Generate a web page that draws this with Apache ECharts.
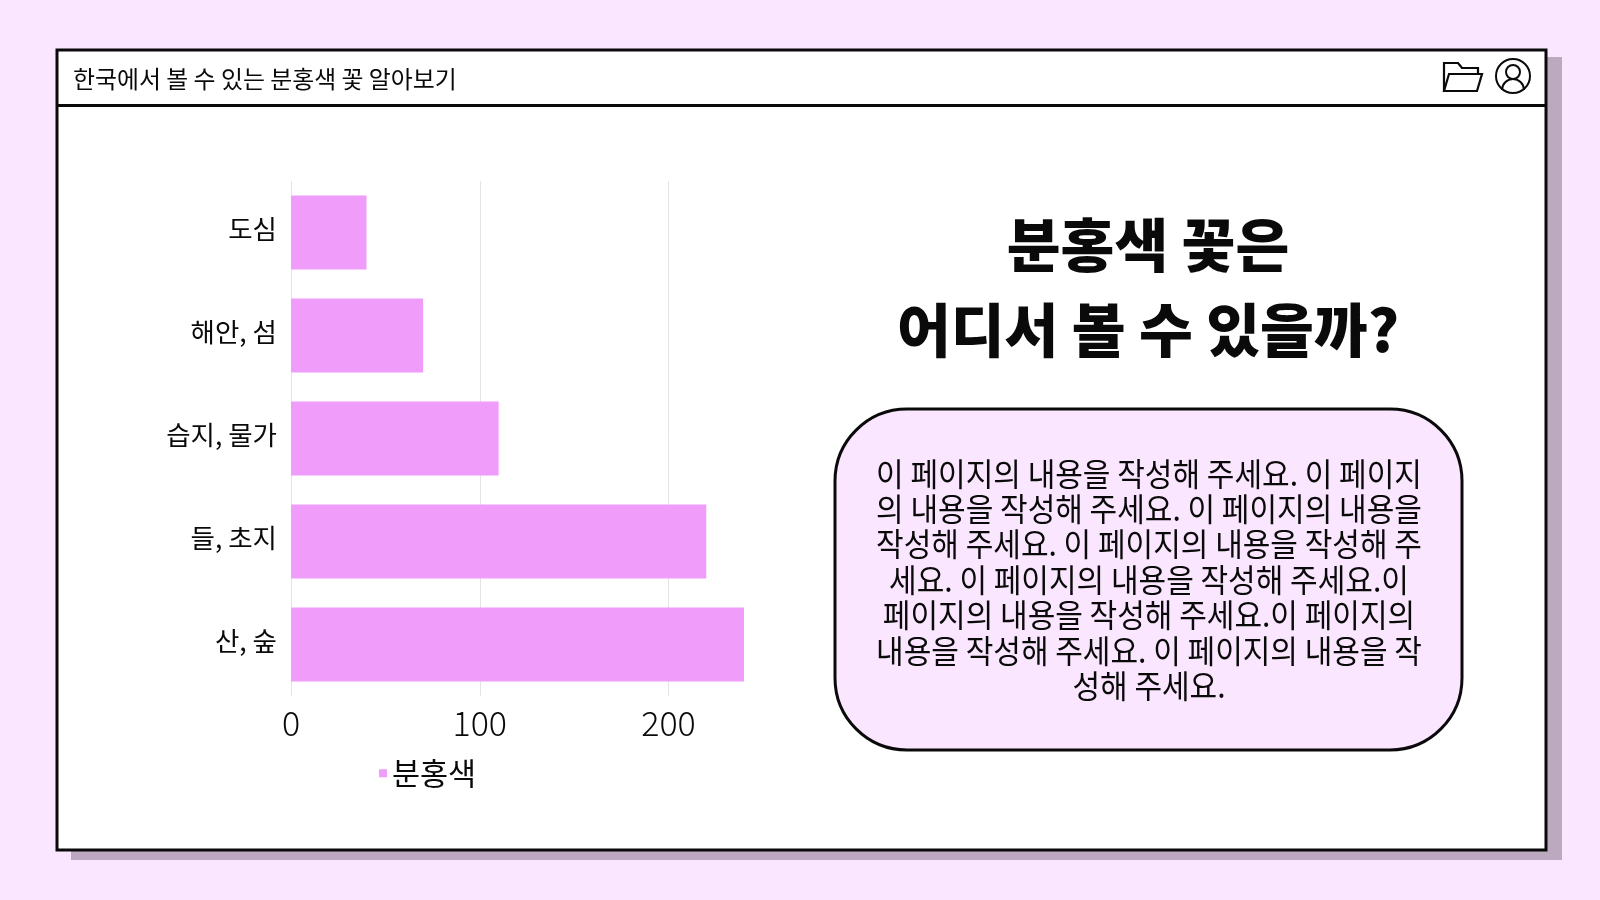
<!DOCTYPE html>
<html>
<head>
    <meta charset="utf-8">
    <title>분홍색 꽃</title>
    <script src="https://cdn.jsdelivr.net/npm/echarts@6/dist/echarts.min.js"></script>
    <style>
        html, body { margin: 0; padding: 0; background: #FAE6FE; }
    </style>
</head>
<body>
    <div id="main" style="width:1600px;height:900px;"></div>
    <script type="text/javascript">
        var categories = ['산, 숲', '들, 초지', '습지, 물가', '해안, 섬', '도심'];
        var seriesName = '분홍색';
        var seriesValues = [240, 220, 110, 70, 40];
        var headerText = '한국에서 볼 수 있는 분홍색 꽃 알아보기';
        var headingLines = ['분홍색 꽃은', '어디서 볼 수 있을까?'];
        var bodyLines = [
            '이 페이지의 내용을 작성해 주세요. 이 페이지',
            '의 내용을 작성해 주세요. 이 페이지의 내용을',
            '작성해 주세요. 이 페이지의 내용을 작성해 주',
            '세요. 이 페이지의 내용을 작성해 주세요.이',
            '페이지의 내용을 작성해 주세요.이 페이지의',
            '내용을 작성해 주세요. 이 페이지의 내용을 작',
            '성해 주세요.'
        ];

        var FONT = '"Noto Sans CJK KR", "Noto Sans", sans-serif';
        var BG = '#FAE6FE';
        var PINK = '#F09CFB';
        var INK = '#0A0A0A';

        function label(x, y, text, size, weight, align, scaleX) {
            return {
                type: 'text', x: x, y: y, z: 10, scaleX: scaleX || 1,
                style: {
                    text: text, fontFamily: FONT, fontSize: size, fontWeight: weight,
                    fill: INK, align: align, verticalAlign: 'middle'
                }
            };
        }

        var iconLine = { fill: 'none', stroke: INK, lineWidth: 2.2 };

        var decor = [
            // window shadow and frame
            { type: 'rect', z: -3, shape: { x: 71, y: 57, width: 1491, height: 803 }, style: { fill: '#BDA9BF' } },
            { type: 'rect', z: -2, shape: { x: 57, y: 50, width: 1489, height: 800 }, style: { fill: '#FFFFFF', stroke: INK, lineWidth: 3 } },
            { type: 'line', z: -1, shape: { x1: 57, y1: 105.5, x2: 1546, y2: 105.5 }, style: { stroke: INK, lineWidth: 3 } },
            label(73, 78.5, headerText, 23.9, 400, 'left'),
            // folder icon
            { type: 'polyline', z: 10, shape: { points: [[1444, 91], [1444, 63], [1458, 63], [1462, 68], [1478, 68], [1478, 74]] }, style: iconLine },
            { type: 'polygon', z: 10, shape: { points: [[1444, 91], [1449, 74], [1482, 74], [1477, 91]] }, style: iconLine },
            // user icon
            { type: 'circle', z: 10, shape: { cx: 1513, cy: 76, r: 17 }, style: { fill: 'none', stroke: INK, lineWidth: 2 } },
            { type: 'circle', z: 10, shape: { cx: 1513, cy: 72, r: 7 }, style: { fill: 'none', stroke: INK, lineWidth: 2 } },
            { type: 'arc', z: 10, shape: { cx: 1513, cy: 90, r: 11, startAngle: Math.PI, endAngle: 2 * Math.PI, clockwise: true }, style: { fill: 'none', stroke: INK, lineWidth: 2 } },
            // text card
            { type: 'rect', z: 1, shape: { x: 835, y: 409, width: 627, height: 341, r: 72 }, style: { fill: BG, stroke: INK, lineWidth: 3 } }
        ];

        headingLines.forEach(function (line, i) {
            decor.push(label(1148, 245 + i * 85, line, 58.5, 900, 'center'));
        });
        bodyLines.forEach(function (line, i) {
            decor.push(label(1149, 473.5 + i * 35.4, line, 32, 400, 'center', 0.938));
        });

        var myChart = echarts.init(document.getElementById('main'));
        myChart.setOption({
            backgroundColor: BG,
            animation: false,
            textStyle: { fontFamily: FONT },
            graphic: { elements: decor },
            legend: {
                data: [seriesName],
                left: 374,
                top: 753,
                icon: 'rect',
                itemWidth: 8,
                itemHeight: 8,
                textStyle: { fontFamily: FONT, fontSize: 30.5, color: INK, fontWeight: 400 }
            },
            grid: { left: 291, top: 181, width: 453, height: 515 },
            xAxis: {
                type: 'value',
                min: 0,
                max: 240,
                interval: 100,
                axisLine: { show: false },
                axisTick: { show: false },
                axisLabel: { showMaxLabel: false, fontFamily: FONT, fontSize: 34, fontWeight: 300, color: INK, margin: 10 },
                splitLine: { show: true, showMaxLine: false, lineStyle: { color: '#E4E4E4', width: 1 } }
            },
            yAxis: {
                type: 'category',
                data: categories,
                axisLine: { show: false },
                axisTick: { show: false },
                axisLabel: { fontFamily: FONT, fontSize: 26.5, fontWeight: 400, color: INK, margin: 14, verticalAlign: 'bottom', lineHeight: 8 }
            },
            series: [{
                name: seriesName,
                type: 'bar',
                data: seriesValues,
                barWidth: 74,
                itemStyle: { color: PINK }
            }]
        });
    </script>
</body>
</html>
